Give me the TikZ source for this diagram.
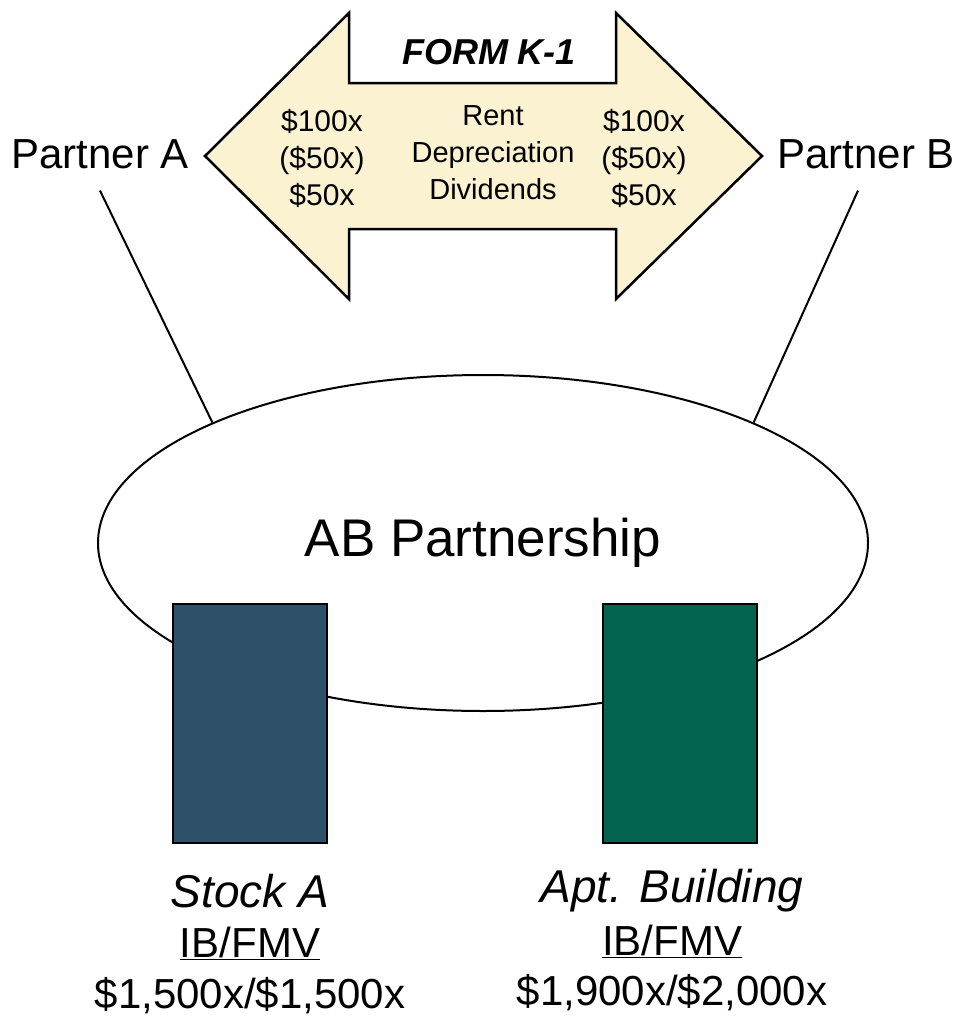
\documentclass[tikz,border=0pt]{standalone}
\usepackage{fontspec}
\setmainfont{Liberation Sans}
\usetikzlibrary{shapes.geometric}
\definecolor{formfill}{RGB}{251,242,210}
\definecolor{stockblue}{RGB}{47,80,105}
\definecolor{aptgreen}{RGB}{3,100,79}
\tikzset{
  partner/.style={inner sep=0pt, font=\fontsize{42}{50}\selectfont},
  k1text/.style={inner sep=0pt, align=center, font=\fontsize{30}{37}\selectfont},
  asset/.style={draw, line width=2pt, minimum width=154, minimum height=239, inner sep=0pt},
  assetname/.style={inner sep=0pt, font=\fontsize{46}{50}\selectfont\itshape},
  assetval/.style={inner sep=0pt, font=\fontsize{42}{50}\selectfont},
}
\begin{document}
\begin{tikzpicture}[x=1pt, y=-1pt]
			%%%%% START %%%%%
			\useasboundingbox (0, 0) rectangle (958, 1017);
			
			% K-1 double arrow
			\draw[line width=2.5pt, fill=formfill] (205, 156) -- (349, 13) -- (349, 83) -- (616, 83) -- (616, 13)
			  -- (762, 156) -- (616, 299) -- (616, 229) -- (349, 229) -- (349, 299) -- cycle;
			\node[inner sep=0pt, font=\fontsize{36}{42}\selectfont\bfseries\itshape] (form) at (489, 52) {FORM K-1};
			\node[k1text] (itemsA) at (322, 158) {\$100x\\(\$50x)\\\$50x};
			\node[k1text, font=\fontsize{29}{37}\selectfont] (items) at (493, 153) {Rent\\Depreciation\\Dividends};
			\node[k1text] (itemsB) at (644, 158) {\$100x\\(\$50x)\\\$50x};
			
			% partners
			\node[partner, anchor=base] (pa) at (100, 168) {Partner A};
			\node[partner, anchor=base] (pb) at (866, 168) {Partner B};
			
			% partnership
			\node[draw, ellipse, line width=2pt, minimum width=770, minimum height=336, inner sep=0pt,
			      font=\fontsize{53}{60}\selectfont] (ab) at (483, 543) {AB Partnership};
			\draw[line width=2pt] ([yshift=-22pt]pa.south) -- (ab.156);
			\draw[line width=2pt] ([xshift=-8pt, yshift=-22pt]pb.south) -- (ab.24);
			
			% assets
			\node[asset, fill=stockblue] (stock) at (250, 723.5) {};
			\node[asset, fill=aptgreen] (apt) at (680, 723.5) {};
			
			\node[assetname, anchor=base] (stockname) at (250, 907) {Stock A};
			\node[assetval, anchor=base] (stockib) at (250, 957) {\underline{IB/FMV}};
			\node[assetval, anchor=base] (stockval) at (250, 1008) {\$1,500x/\$1,500x};
			
			\node[assetname, anchor=base] (aptname) at (672, 902) {Apt. Building};
			\node[assetval, anchor=base] (aptib) at (672, 955) {\underline{IB/FMV}};
			\node[assetval, anchor=base] (aptval) at (672, 1005) {\$1,900x/\$2,000x};
			%%%%% END %%%%%
\end{tikzpicture}
\end{document}
